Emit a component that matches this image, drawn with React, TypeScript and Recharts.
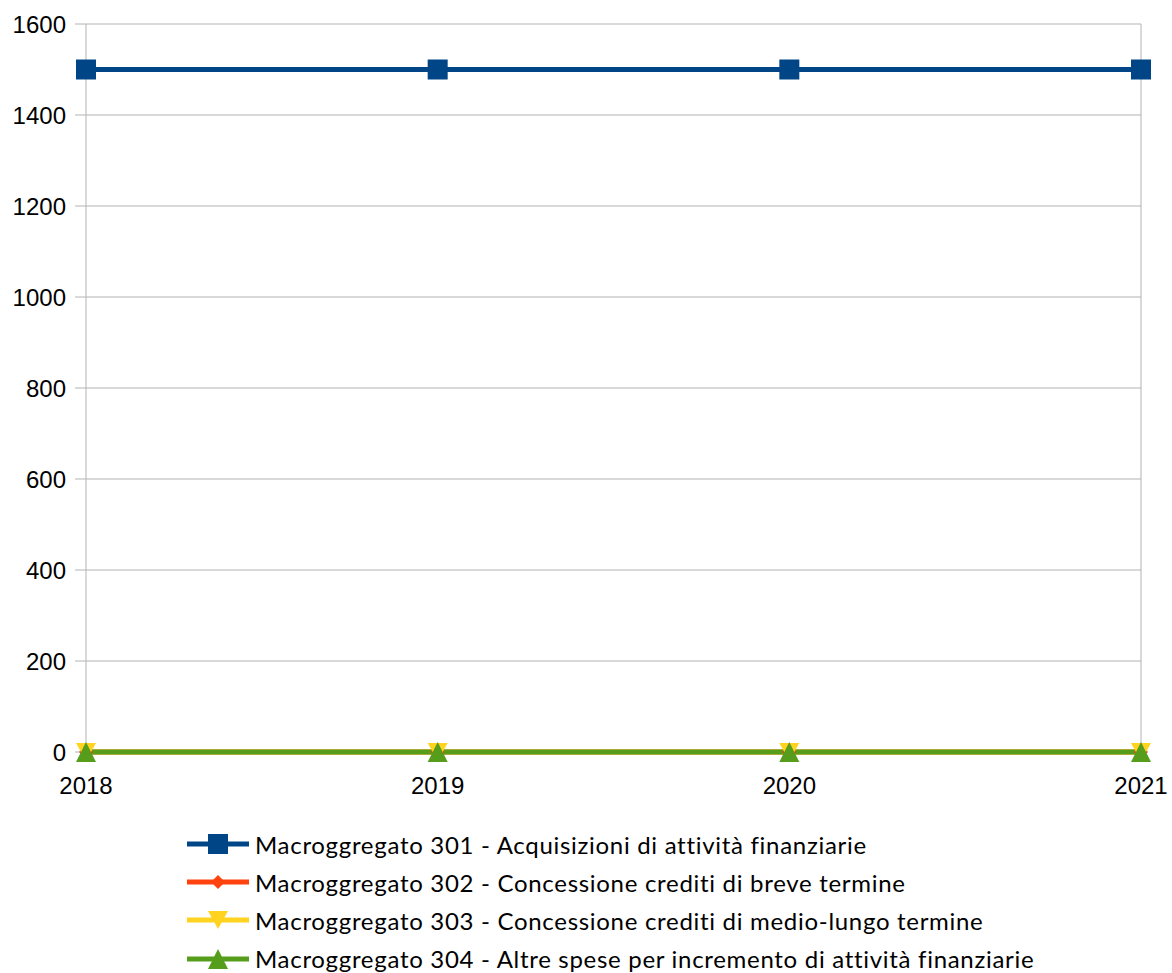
import React from 'react';
import { LineChart, Line, XAxis, YAxis, CartesianGrid, ReferenceLine } from 'recharts';

const years = ['2018', '2019', '2020', '2021'];
const macro301 = [1500, 1500, 1500, 1500];
const macro302 = [0, 0, 0, 0];
const macro303 = [0, 0, 0, 0];
const macro304 = [0, 0, 0, 0];
const yTicks = [0, 200, 400, 600, 800, 1000, 1200, 1400, 1600];

const series = [
  { key: 'm301', name: 'Macroggregato 301 - Acquisizioni di attività finanziarie', color: '#004586', shape: 'square', values: macro301 },
  { key: 'm302', name: 'Macroggregato 302 - Concessione crediti di breve termine', color: '#ff420e', shape: 'diamond', values: macro302 },
  { key: 'm303', name: 'Macroggregato 303 - Concessione crediti di medio-lungo termine', color: '#ffd320', shape: 'down', values: macro303 },
  { key: 'm304', name: 'Macroggregato 304 - Altre spese per incremento di attività finanziarie', color: '#579d1c', shape: 'up', values: macro304 },
];

const data = years.map((y, i) => {
  const row: any = { year: y };
  series.forEach(s => { row[s.key] = s.values[i]; });
  return row;
});

const Marker = ({ cx, cy, shape, color }: any) => {
  if (cx == null || cy == null) return null;
  if (shape === 'square') return <rect x={cx - 10} y={cy - 10} width={20} height={20} fill={color} />;
  if (shape === 'diamond') return <polygon points={`${cx},${cy - 7} ${cx + 7},${cy} ${cx},${cy + 7} ${cx - 7},${cy}`} fill={color} />;
  if (shape === 'down') return <polygon points={`${cx - 10},${cy - 9} ${cx + 10},${cy - 9} ${cx},${cy + 9}`} fill={color} />;
  return <polygon points={`${cx},${cy - 10} ${cx + 10},${cy + 10} ${cx - 10},${cy + 10}`} fill={color} />;
};

const tickFont = { fill: '#000', fontSize: 24, fontFamily: 'Liberation Sans' };

const App = () => {
  return (
    <div style={{ position: 'absolute', left: 0, top: 0, width: 1172, height: 973, background: '#fff' }}>
      <LineChart width={1172} height={810} data={data} margin={{ top: 24, right: 31, left: 0, bottom: 8 }}>
        <CartesianGrid vertical={false} stroke="#b3b3b3" />
        <ReferenceLine x="2021" stroke="#b3b3b3" />
        <XAxis
          dataKey="year"
          axisLine={false}
          tickLine={false}
          height={50}
          tickMargin={19}
          tick={tickFont}
          interval={0}
        />
        <YAxis
          width={86}
          domain={[0, 1600]}
          ticks={yTicks}
          axisLine={{ stroke: '#b3b3b3' }}
          tickLine={{ stroke: '#b3b3b3' }}
          tickSize={11}
          tickMargin={9}
          tick={tickFont}
        />
        {series.map(s => (
          <Line
            key={s.key}
            dataKey={s.key}
            name={s.name}
            stroke={s.color}
            strokeWidth={5}
            isAnimationActive={false}
            dot={(p: any) => <Marker key={`${s.key}-${p.index}`} cx={p.cx} cy={p.cy} shape={s.shape} color={s.color} />}
            activeDot={false}
          />
        ))}
      </LineChart>
      <div style={{ position: 'absolute', left: 187, top: 825, fontFamily: 'Lato', fontSize: 24, letterSpacing: 0.7, color: '#000' }}>
        {series.map(s => (
          <div key={s.key} style={{ display: 'flex', alignItems: 'center', height: 38.2, whiteSpace: 'nowrap' }}>
            <svg width={62} height={24} style={{ marginRight: 6 }}>
              <line x1={0} y1={12} x2={62} y2={12} stroke={s.color} strokeWidth={5} />
              <Marker cx={31} cy={12} shape={s.shape} color={s.color} />
            </svg>
            <span>{s.name}</span>
          </div>
        ))}
      </div>
    </div>
  );
};

export default App;
